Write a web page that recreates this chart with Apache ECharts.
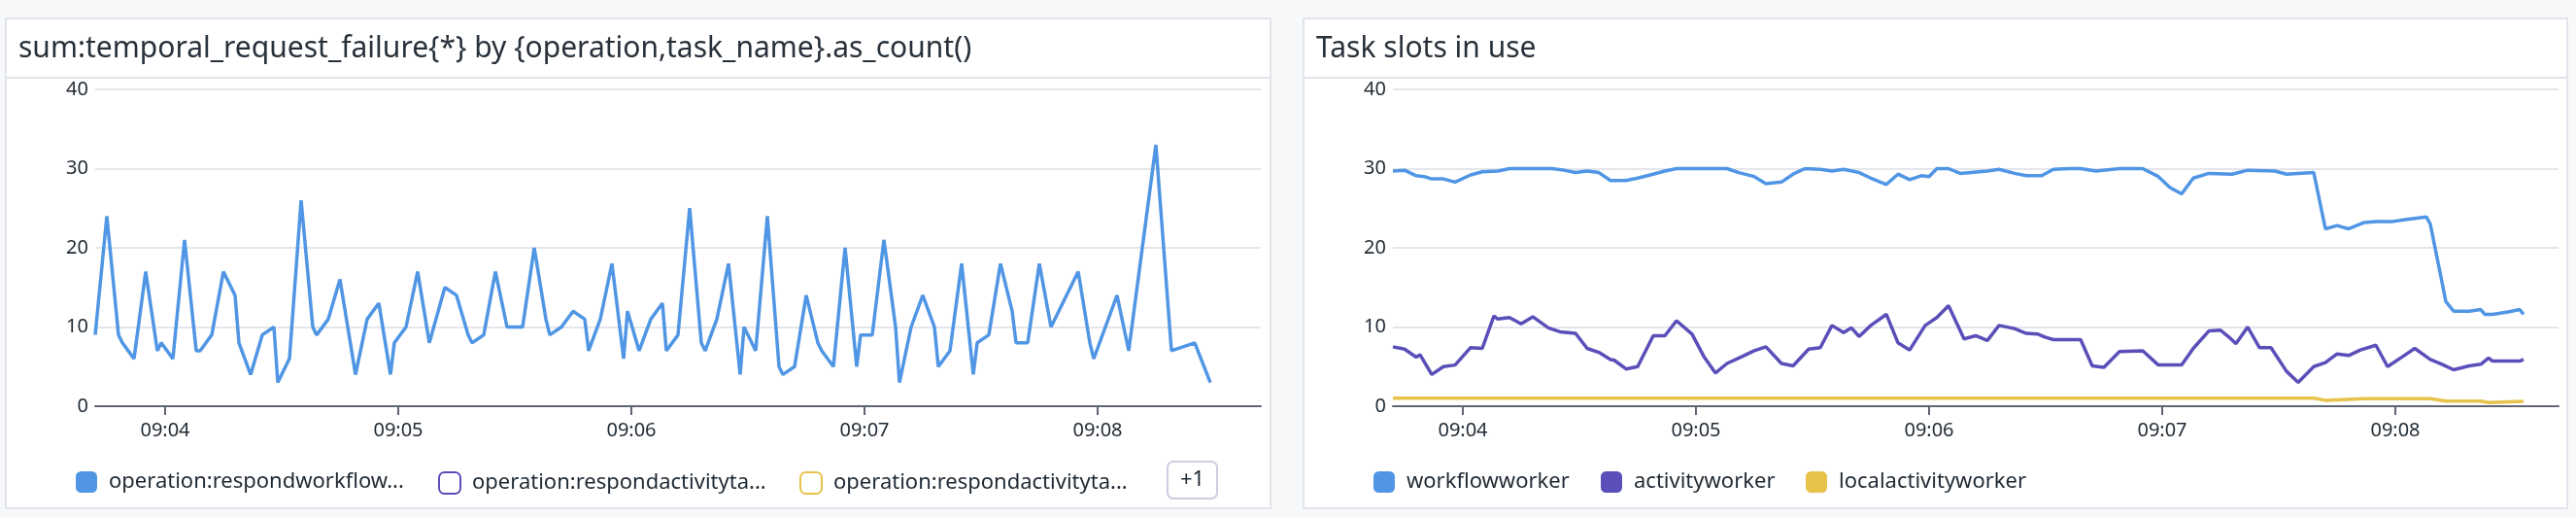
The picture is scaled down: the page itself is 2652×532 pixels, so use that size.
<!DOCTYPE html>
<html>
<head>
<meta charset="utf-8">
<script src="https://cdn.jsdelivr.net/npm/echarts@6/dist/echarts.min.js"></script>
<style>
  html, body { margin: 0; padding: 0; background: #f7f8fa; }
  #chart { width: 2652px; height: 532px; }
</style>
</head>
<body>
<div id="chart"></div>
<script>
// ---------- DATA ----------
const startTime = '09:03:42';            // left edge of both x axes
const windowSeconds = 300;               // 5 minute window
const tickLabels = ['09:04', '09:05', '09:06', '09:07', '09:08'];

const leftTitle = 'sum:temporal_request_failure{*} by {operation,task_name}.as_count()';
const rightTitle = 'Task slots in use';

const leftSeriesNames = ['operation:respondworkflowtaskfailed', 'operation:respondactivitytaskfailed', 'operation:respondactivitytaskcanceled'];
const leftLegendLabels = ['operation:respondworkflow...', 'operation:respondactivityta...', 'operation:respondactivityta...'];
const leftHiddenCount = '+1';

// seconds after startTime
const failureTimes = [0,3,6,7,10,13,16,17,20,23,26,27,30,33,36,37,40,43,46,47,50,53,56,57,60,63,65,67,70,73,76,77,80,83,86,90,93,96,97,100,103,106,110,113,116,117,120,123,126,127,130,133,136,137,140,143,146,147,150,153,156,157,160,163,166,167,170,173,176,177,180,183,186,187,190,193,196,197,200,203,206,207,210,213,216,217,220,223,226,227,230,233,236,237,240,243,246,253,256,257,260,263,266,273,277,283,287];
const failureValues = [9,24,9,8,6,17,7,8,6,21,7,7,9,17,14,8,4,9,10,3,6,26,10,9,11,16,10,4,11,13,4,8,10,17,8,15,14,9,8,9,17,10,10,20,11,9,10,12,11,7,11,18,6,12,7,11,13,7,9,25,8,7,11,18,4,10,7,24,5,4,5,14,8,7,5,20,5,9,9,21,10,3,10,14,10,5,7,18,4,8,9,18,12,8,8,18,10,17,8,6,10,14,7,33,7,8,3];

const slotSeriesNames = ['workflowworker', 'activityworker', 'localactivityworker'];

const workflowTimes = [0,3,6,8,10,13,16,20,23,27,30,33,41,44,47,50,53,56,60,63,67,70,73,86,89,93,96,100,103,106,110,113,116,120,123,127,130,133,136,138,140,143,146,153,156,160,163,167,170,174,177,181,187,193,197,200,203,206,210,216,220,227,230,237,240,243,246,250,253,257,261,266,267,270,271,273,277,280,281,283,287,290,291];
const workflowValues = [29.7,29.8,29.1,29.0,28.7,28.7,28.3,29.2,29.6,29.7,30,30,30,29.8,29.5,29.7,29.5,28.5,28.5,28.8,29.3,29.7,30,30,29.5,29.0,28.1,28.3,29.3,30,29.9,29.7,29.9,29.5,28.8,28.0,29.3,28.6,29.1,29.0,30,30,29.4,29.7,29.9,29.4,29.1,29.1,29.9,30,30,29.7,30,30,29.0,27.6,26.8,28.8,29.4,29.3,29.8,29.7,29.3,29.5,22.4,22.8,22.4,23.2,23.3,23.3,23.6,23.9,23.0,15.7,13.2,12.0,12.0,12.2,11.6,11.6,11.9,12.2,11.6];

const activityTimes = [0,3,6,7,10,13,16,20,23,26,27,30,33,36,40,43,47,50,53,56,57,60,63,67,70,73,77,80,83,86,90,93,96,100,103,107,110,113,116,118,120,123,127,130,133,137,140,143,147,150,153,156,160,163,166,168,170,177,180,183,187,193,197,203,206,210,213,215,217,220,223,226,230,233,237,240,243,246,249,253,256,260,263,267,270,273,277,280,282,283,287,290,291];
const activityValues = [7.5,7.2,6.2,6.5,4.0,5.0,5.2,7.4,7.3,11.4,11.0,11.2,10.4,11.3,9.9,9.4,9.2,7.3,6.8,5.9,5.8,4.7,5.0,8.9,8.9,10.8,9.1,6.3,4.2,5.4,6.3,7.0,7.5,5.4,5.1,7.2,7.4,10.2,9.3,9.9,8.8,10.2,11.6,8.0,7.1,10.2,11.2,12.7,8.5,8.9,8.3,10.2,9.8,9.2,9.1,8.7,8.4,8.4,5.1,4.9,6.9,7.0,5.2,5.2,7.3,9.5,9.6,8.8,7.9,10.0,7.4,7.4,4.4,3.0,5.0,5.5,6.6,6.4,7.1,7.7,5.0,6.3,7.3,5.9,5.3,4.6,5.1,5.3,6.1,5.7,5.7,5.7,5.9];

const localTimes = [0,30,60,90,120,150,180,210,237,240,250,267,271,280,282,291];
const localValues = [1,1,1,1,1,1,1,1,1,0.75,0.95,0.95,0.65,0.65,0.45,0.6];

// ---------- STYLE ----------
const BLUE = '#5096e4', PURPLE = '#5a4fb9', YELLOW = '#e7c34b';
const TEXT = '#1f2933', AXIS = '#5f6573', GRIDC = '#e4e6eb', BORDER = '#e1e4ea';
const FONT = '"Noto Sans", "Open Sans", sans-serif';

function toSec(s) {
  const p = s.split(':').map(Number);
  return p[0] * 3600 + p[1] * 60 + (p[2] || 0);
}
function fmt(v) {
  const h = Math.floor(v / 3600), m = Math.floor((v % 3600) / 60);
  return String(h).padStart(2, '0') + ':' + String(m).padStart(2, '0');
}
const T0 = toSec(startTime);
const tickValues = tickLabels.map(toSec);
const pairs = (ts, vs) => ts.map((t, i) => [T0 + t, vs[i]]);

function xAxisFor(gridIndex) {
  return {
    type: 'value', gridIndex, min: T0, max: T0 + windowSeconds,
    axisLine: { show: true, lineStyle: { color: AXIS, width: 2 } },
    axisTick: { show: true, customValues: tickValues, length: 9, lineStyle: { color: AXIS, width: 2 } },
    axisLabel: { customValues: tickValues, formatter: fmt, margin: 15, color: TEXT, fontSize: 20, fontFamily: FONT },
    splitLine: { show: false }
  };
}
function yAxisFor(gridIndex) {
  return {
    type: 'value', gridIndex, min: 0, max: 40, interval: 10,
    axisLine: { show: false }, axisTick: { show: false },
    axisLabel: { margin: 7, color: TEXT, fontSize: 20, fontFamily: FONT },
    splitLine: { show: true, lineStyle: { color: GRIDC, width: 2 } }
  };
}
function lineSeries(name, data, color, idx) {
  return {
    name, type: 'line', xAxisIndex: idx, yAxisIndex: idx, data,
    showSymbol: false, symbol: 'none', smooth: false,
    lineStyle: { color, width: 3.5 }, itemStyle: { color },
    emphasis: { disabled: true }, z: 3
  };
}
function legendItem(left, name, label, color, hollow) {
  return {
    left, top: 485, padding: 0, orient: 'horizontal',
    itemWidth: 22, itemHeight: 22, icon: 'roundRect',
    data: [{ name, itemStyle: hollow ? { color: '#ffffff', borderColor: color, borderWidth: 2 } : { color } }],
    formatter: () => label,
    textStyle: { color: TEXT, fontSize: 22, fontFamily: FONT, padding: [0, 0, 0, 7] },
    selectedMode: false
  };
}

const panels = [
  { x: 6, w: 1302 },
  { x: 1342, w: 1301 }
];
const graphics = [];
panels.forEach(p => {
  graphics.push({ type: 'rect', z: -10, shape: { x: p.x, y: 19, width: p.w, height: 504 }, style: { fill: '#ffffff', stroke: BORDER, lineWidth: 2 } });
  graphics.push({ type: 'line', z: -9, shape: { x1: p.x, y1: 80, x2: p.x + p.w, y2: 80 }, style: { stroke: BORDER, lineWidth: 2 } });
});
graphics.push({ type: 'text', left: 19, top: 35, style: { text: leftTitle, fill: '#28313b', font: '30px ' + FONT } });
graphics.push({ type: 'text', left: 1355, top: 35, style: { text: rightTitle, fill: '#28313b', font: '30px ' + FONT } });
graphics.push({ type: 'rect', shape: { x: 1202, y: 475, width: 51, height: 38, r: 6 }, style: { fill: '#ffffff', stroke: '#c9cde0', lineWidth: 2 } });
graphics.push({ type: 'text', x: 1227.5, y: 494, style: { text: leftHiddenCount, fill: TEXT, font: '22px ' + FONT, align: 'center', verticalAlign: 'middle' } });

const option = {
  animation: false,
  backgroundColor: '#f7f8fa',
  graphic: graphics,
  grid: [
    { left: 98, top: 92, width: 1200, height: 326 },
    { left: 1434, top: 92, width: 1200, height: 326 }
  ],
  xAxis: [xAxisFor(0), xAxisFor(1)],
  yAxis: [yAxisFor(0), yAxisFor(1)],
  legend: [
    legendItem(78, leftSeriesNames[0], leftLegendLabels[0], BLUE, false),
    legendItem(451, leftSeriesNames[1], leftLegendLabels[1], PURPLE, true),
    legendItem(823, leftSeriesNames[2], leftLegendLabels[2], YELLOW, true),
    legendItem(1414, slotSeriesNames[0], slotSeriesNames[0], BLUE, false),
    legendItem(1648, slotSeriesNames[1], slotSeriesNames[1], PURPLE, false),
    legendItem(1859, slotSeriesNames[2], slotSeriesNames[2], YELLOW, false)
  ],
  series: [
    lineSeries(leftSeriesNames[0], pairs(failureTimes, failureValues), BLUE, 0),
    lineSeries(leftSeriesNames[1], [], PURPLE, 0),
    lineSeries(leftSeriesNames[2], [], YELLOW, 0),
    lineSeries(slotSeriesNames[0], pairs(workflowTimes, workflowValues), BLUE, 1),
    lineSeries(slotSeriesNames[1], pairs(activityTimes, activityValues), PURPLE, 1),
    lineSeries(slotSeriesNames[2], pairs(localTimes, localValues), YELLOW, 1)
  ]
};
const chart = echarts.init(document.getElementById('chart'), null, { renderer: 'canvas' });
chart.setOption(option);
</script>
</body>
</html>
